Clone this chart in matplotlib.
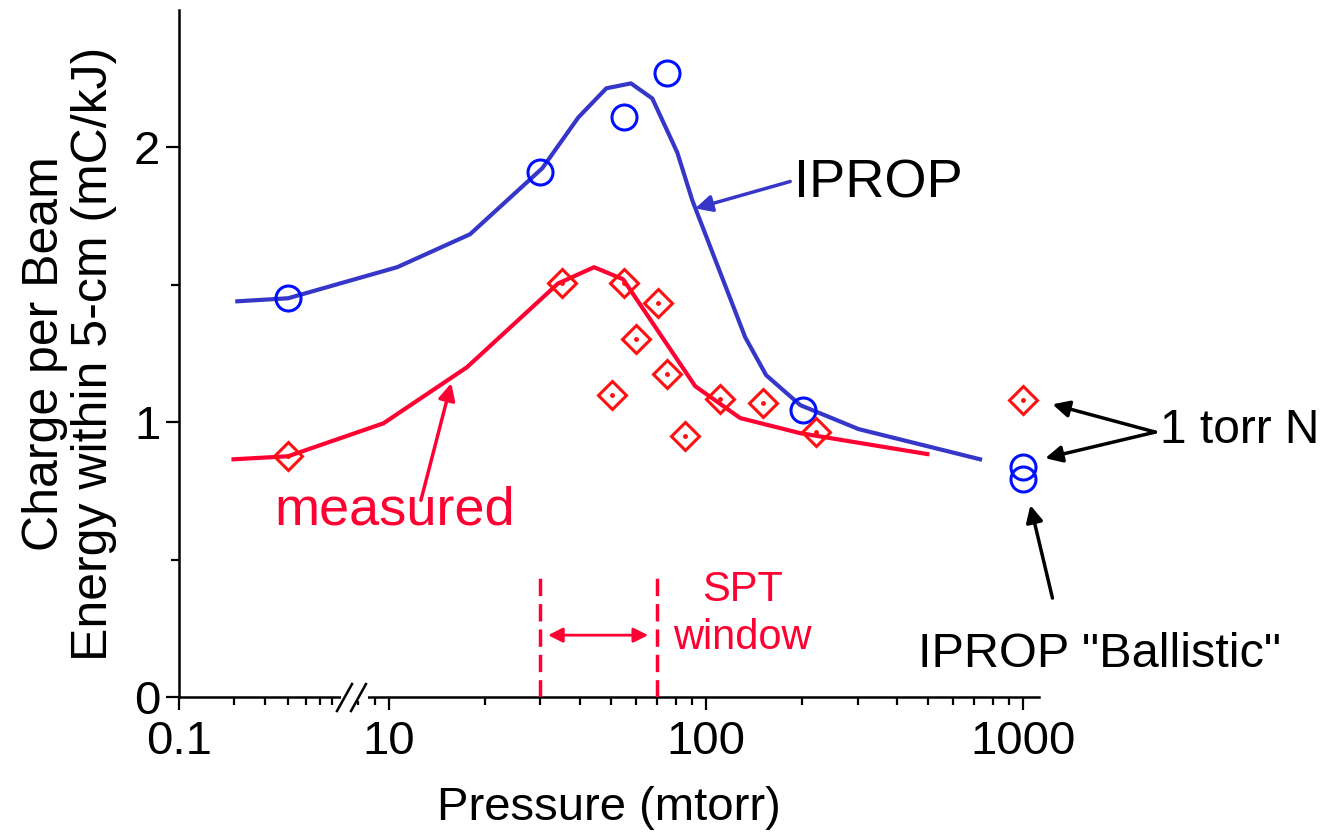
import numpy as np
import matplotlib
matplotlib.use("Agg")
from matplotlib import pyplot as plt
from matplotlib.ticker import FixedLocator, NullFormatter

plt.rcParams['font.family'] = ['Liberation Sans', 'DejaVu Sans']

# IPROP simulation curve
iprop_p = [0.21, 0.4, 10.6, 18.0, 30.4, 39.5, 48.4, 57.9, 67.6, 81.0, 90.4, 132.7, 154.5, 198, 302, 730]
iprop_q = [1.44, 1.451, 1.564, 1.684, 1.924, 2.109, 2.215, 2.233, 2.178, 1.982, 1.807, 1.309, 1.171, 1.062, 0.975, 0.865]

# measured (fit) curve
meas_p = [0.2, 0.4, 9.6, 17.6, 34.1, 44.3, 54.7, 92.3, 128, 198, 498]
meas_q = [0.865, 0.876, 0.996, 1.20, 1.505, 1.564, 1.52, 1.131, 1.015, 0.96, 0.884]

# IPROP points (circles)
circ_p = [0.4, 29.9, 55.1, 75.3, 202, 1000, 1000]
circ_q = [1.451, 1.909, 2.109, 2.269, 1.044, 0.836, 0.793]

# measured points (diamonds)
diam_p = [0.4, 35.2, 55.1, 70.6, 60.1, 75.3, 50.5, 110.6, 85.9, 151.4, 222, 1000]
diam_q = [0.876, 1.505, 1.505, 1.433, 1.302, 1.175, 1.098, 1.084, 0.949, 1.069, 0.964, 1.08]

spt_window = [30, 70]

major_x = [0.1, 10, 100, 1000]
major_x_labels = ["0.1", "10", "100", "1000"]
minor_x = [0.2, 0.3, 0.4, 0.5, 0.6, 0.7, 8, 9, 20, 30, 40, 50, 60, 70, 80, 90,
           200, 300, 400, 500, 600, 700, 800, 900]

# broken log axis: 0.1..0.8 compressed, then 7..1000 at full decade width
K = 181 / 317
U0 = 0.3375
UB = 0.855
XLO = 10 ** ((UB - U0) / K - 1)
XHI = 10 ** UB


def fwd(x):
    x = np.clip(np.asarray(x, dtype=float), 1e-6, None)
    lx = np.log10(x)
    left = U0 + K * (lx + 1)
    return np.where(x <= XLO, left, np.where(x >= XHI, lx, UB))


def inv(u):
    u = np.asarray(u, dtype=float)
    return np.where(u <= UB, 10 ** ((u - U0) / K - 1), 10 ** u)


BLUE_LINE = '#3636c8'
BLUE = '#0010ff'
RED_LINE = '#ff0033'
RED = '#ff1010'

fig = plt.figure(figsize=(13.27, 8.38), dpi=100)
ax = fig.add_axes([179 / 1327, 1 - 697 / 838, 860 / 1327, 687 / 838])
ax.set_xscale('function', functions=(fwd, inv))
ax.set_xlim(0.1, 1120)
ax.set_ylim(0, 2.5)

ax.plot(iprop_p, iprop_q, color=BLUE_LINE, lw=3, zorder=3)
ax.plot(meas_p, meas_q, color=RED_LINE, lw=3, zorder=3)
ax.plot(circ_p, circ_q, ls='none', marker='o', ms=18, mfc='none', mec=BLUE, mew=2.2, zorder=4)
ax.plot(diam_p, diam_q, ls='none', marker='D', ms=14.5, mfc='none', mec=RED, mew=2.2, zorder=4)
ax.plot(diam_p, diam_q, ls='none', marker='o', ms=2.5, color=RED, zorder=4)

# SPT window
for p in spt_window:
    ax.plot([p, p], [0, 0.455], color=RED_LINE, lw=2.5, ls=(0, (5, 2.3)), zorder=3)
ax.annotate('', xy=(31.7, 0.225), xytext=(65.6, 0.225),
            arrowprops=dict(arrowstyle='<|-|>', color=RED_LINE, lw=2, mutation_scale=22, shrinkA=0, shrinkB=0))
ax.text(130, 0.302, 'SPT\nwindow', color=RED_LINE, fontsize=30, ha='center', va='center', linespacing=1.25)

# labels with arrows
ax.text(349, 1.869, 'IPROP', fontsize=39, ha='center', va='center')
ax.annotate('', xy=(92.3, 1.778), xytext=(184, 1.876),
            arrowprops=dict(arrowstyle='-|>', color=BLUE_LINE, lw=2.5, mutation_scale=25, shrinkA=0, shrinkB=0))

ax.text(10.4, 0.68, 'measured', color=RED_LINE, fontsize=39, ha='center', va='center')
ax.annotate('', xy=(15.7, 1.142), xytext=(12.6, 0.716),
            arrowprops=dict(arrowstyle='-|>', color=RED_LINE, lw=2.5, mutation_scale=25, shrinkA=0, shrinkB=0))

ax.text(2705, 0.971, '1 torr N', fontsize=34.5, ha='left', va='center', clip_on=False)
for hy, hx in [(1.065, 1235), (0.869, 1172)]:
    ax.annotate('', xy=(hx, hy), xytext=(2606, 0.964),
                arrowprops=dict(arrowstyle='-|>', color='black', lw=2.5, mutation_scale=25, shrinkA=0, shrinkB=0),
                annotation_clip=False)

ax.text(1739, 0.153, 'IPROP "Ballistic"', fontsize=35, ha='center', va='center', clip_on=False)
ax.annotate('', xy=(1052, 0.698), xytext=(1235, 0.36),
            arrowprops=dict(arrowstyle='-|>', color='black', lw=2.5, mutation_scale=25, shrinkA=0, shrinkB=0),
            annotation_clip=False)

# axes styling
for s in ['top', 'right']:
    ax.spines[s].set_visible(False)
for s in ['left', 'bottom']:
    ax.spines[s].set_linewidth(1.8)

ax.xaxis.set_major_locator(FixedLocator(major_x))
ax.set_xticklabels(major_x_labels)
ax.xaxis.set_minor_locator(FixedLocator(minor_x))
ax.xaxis.set_minor_formatter(NullFormatter())
ax.set_yticks([0, 1, 2])
ax.set_yticklabels(["0", "1", "2"])
ax.yaxis.set_minor_locator(FixedLocator([0.5, 1.5]))
ax.tick_params(which='major', length=9.5, width=1.6, labelsize=34, pad=4)
ax.tick_params(axis='x', which='major', pad=7)
ax.tick_params(which='minor', length=6, width=1.6)

ax.set_xlabel('Pressure (mtorr)', fontsize=34, labelpad=16)
ax.set_ylabel('Charge per Beam\nEnergy within 5-cm (mC/kJ)', fontsize=36, labelpad=12, linespacing=1.1)

# axis break marks
ax.plot([0.192, 0.2155], [0.0, 0.0], transform=ax.transAxes, color='white', lw=5, clip_on=False, zorder=5)
ax.plot([0.1837, 0.2012], [-0.0204, 0.0189], transform=ax.transAxes, color='black', lw=1.8, clip_on=False, zorder=6)
ax.plot([0.2, 0.2174], [-0.0204, 0.0189], transform=ax.transAxes, color='black', lw=1.8, clip_on=False, zorder=6)

fig.savefig('out.png', dpi=100)
